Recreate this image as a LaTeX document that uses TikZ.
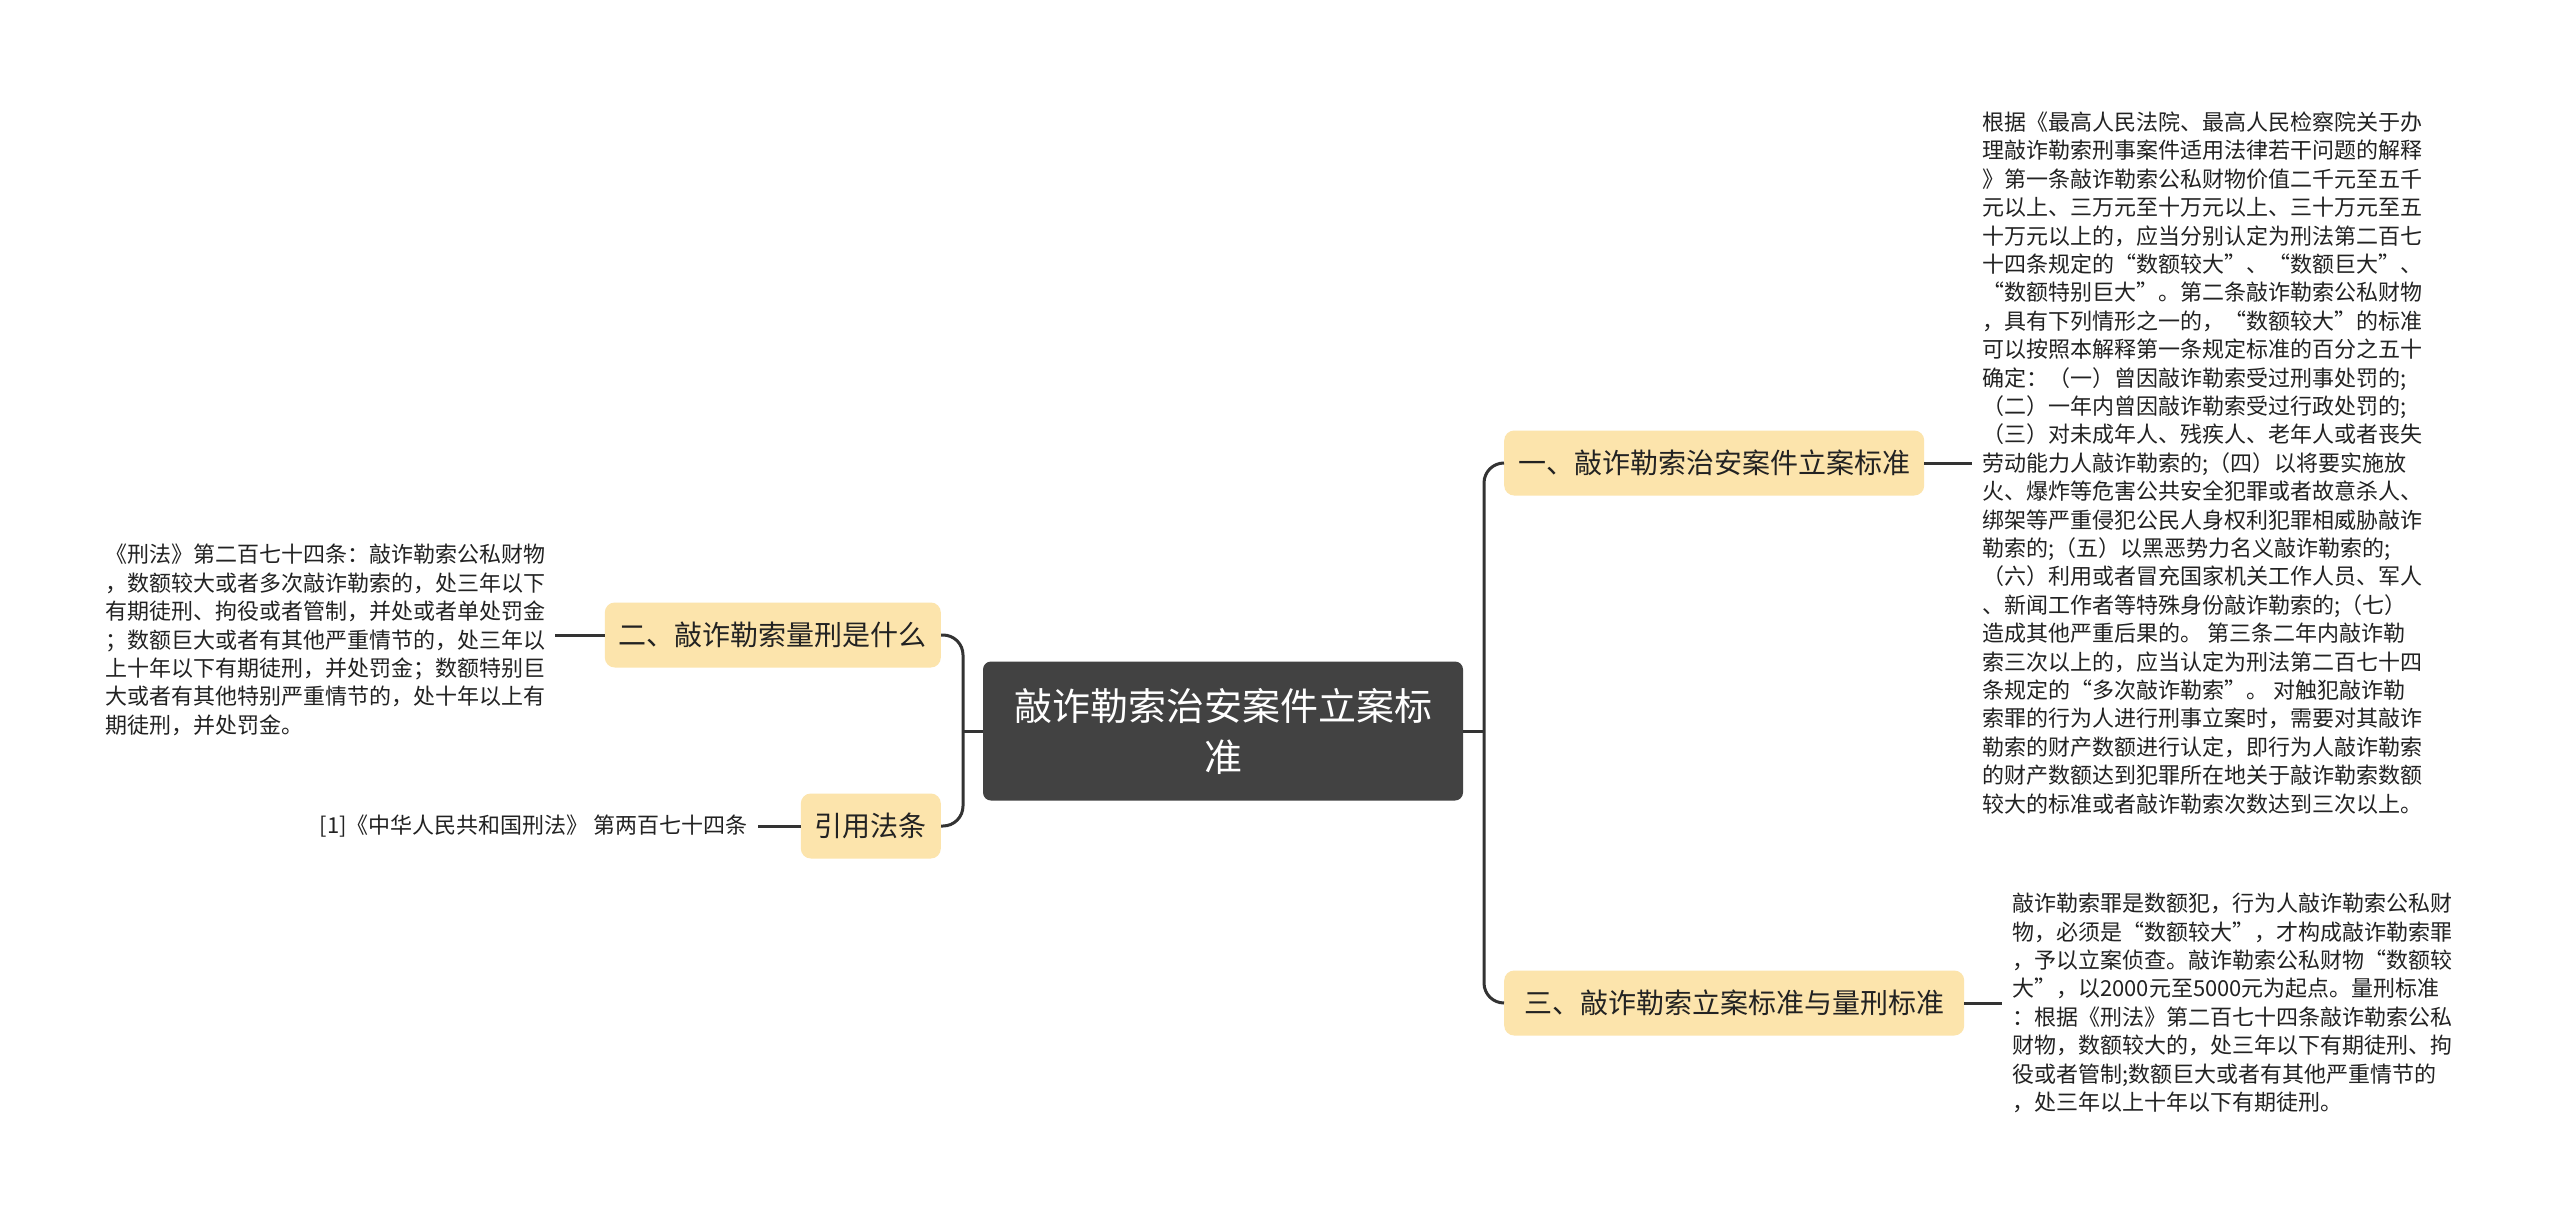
\documentclass[tikz,border=0pt]{standalone}
\usepackage{fontspec}
\setmainfont{Noto Sans CJK SC}
\definecolor{topicfill}{RGB}{252,228,172}
\definecolor{rootfill}{RGB}{66,66,66}
\definecolor{linec}{RGB}{51,51,51}
\definecolor{txt}{RGB}{34,34,34}
\tikzset{
  topic/.style={fill=topicfill, rounded corners=10pt, inner sep=0pt, inner xsep=14pt,
    minimum height=65pt, font=\fontsize{28}{34}\selectfont, text=txt},
  rootbox/.style={fill=rootfill, rounded corners=8pt, inner sep=0pt, minimum width=480pt,
    minimum height=139pt, align=center, font=\fontsize{38}{51}\selectfont, text=white},
  note/.style={inner sep=0pt, inner xsep=10pt, align=left,
    font=\fontsize{22}{28.4}\selectfont, text=txt},
  link/.style={draw=linec, line width=3pt},
}
\begin{document}
\begin{tikzpicture}[x=1pt,y=-1pt]
\useasboundingbox (0,0) rectangle (2560,1220);
\fill[white] (0,0) rectangle (2560,1220);

\node[rootbox] (root) at (1223,731) {敲诈勒索治安案件立案标\\准};

\node[topic, anchor=west] (n1) at (1504,463) {一、敲诈勒索治安案件立案标准};
\node[topic, anchor=west, minimum width=460pt] (n3) at (1504,1003) {三、敲诈勒索立案标准与量刑标准};
\node[topic, anchor=east] (n2) at (941,635) {二、敲诈勒索量刑是什么};
\node[topic, anchor=east] (n4) at (941,826) {引用法条};

\node[note, anchor=west] (t1) at (1972,463) {根据《最高人民法院、最高人民检察院关于办\\
理敲诈勒索刑事案件适用法律若干问题的解释\\
》第一条敲诈勒索公私财物价值二千元至五千\\
元以上、三万元至十万元以上、三十万元至五\\
十万元以上的，应当分别认定为刑法第二百七\\
十四条规定的“数额较大”、“数额巨大”、\\
“数额特别巨大”。第二条敲诈勒索公私财物\\
，具有下列情形之一的，“数额较大”的标准\\
可以按照本解释第一条规定标准的百分之五十\\
确定：（一）曾因敲诈勒索受过刑事处罚的;\\
（二）一年内曾因敲诈勒索受过行政处罚的;\\
（三）对未成年人、残疾人、老年人或者丧失\\
劳动能力人敲诈勒索的;（四）以将要实施放\\
火、爆炸等危害公共安全犯罪或者故意杀人、\\
绑架等严重侵犯公民人身权利犯罪相威胁敲诈\\
勒索的;（五）以黑恶势力名义敲诈勒索的;\\
（六）利用或者冒充国家机关工作人员、军人\\
、新闻工作者等特殊身份敲诈勒索的;（七）\\
造成其他严重后果的。 第三条二年内敲诈勒\\
索三次以上的，应当认定为刑法第二百七十四\\
条规定的“多次敲诈勒索”。 对触犯敲诈勒\\
索罪的行为人进行刑事立案时，需要对其敲诈\\
勒索的财产数额进行认定，即行为人敲诈勒索\\
的财产数额达到犯罪所在地关于敲诈勒索数额\\
较大的标准或者敲诈勒索次数达到三次以上。};

\node[note, anchor=west] (t3) at (2002,1003) {敲诈勒索罪是数额犯，行为人敲诈勒索公私财\\
物，必须是“数额较大”，才构成敲诈勒索罪\\
，予以立案侦查。敲诈勒索公私财物“数额较\\
大”，以2000元至5000元为起点。量刑标准\\
：根据《刑法》第二百七十四条敲诈勒索公私\\
财物，数额较大的，处三年以下有期徒刑、拘\\
役或者管制;数额巨大或者有其他严重情节的\\
，处三年以上十年以下有期徒刑。};

\node[note, anchor=west] (t2) at (95,640) {《刑法》第二百七十四条：敲诈勒索公私财物\\
，数额较大或者多次敲诈勒索的，处三年以下\\
有期徒刑、拘役或者管制，并处或者单处罚金\\
；数额巨大或者有其他严重情节的，处三年以\\
上十年以下有期徒刑，并处罚金；数额特别巨\\
大或者有其他特别严重情节的，处十年以上有\\
期徒刑，并处罚金。};

\node[note, anchor=east] (t4) at (758,826) {[1]《中华人民共和国刑法》 第两百七十四条};

\coordinate (rb) at (1484,731);
\coordinate (lb) at (963,731);

\draw[link] (root.east) -- (rb);
\draw[link, rounded corners=20pt] (n1.west) -| (rb) |- (n3.west);
\draw[link] (root.west) -- (lb);
\draw[link, rounded corners=20pt] (n2.east) -| (lb) |- (n4.east);

\draw[link] (n1.east) -- (n1.east -| t1.west);
\draw[link] (n3.east) -- (n3.east -| t3.west);
\draw[link] (n2.west -| t2.east) -- (n2.west);
\draw[link] (t4.east) -- (n4.west);
\end{tikzpicture}
\end{document}
